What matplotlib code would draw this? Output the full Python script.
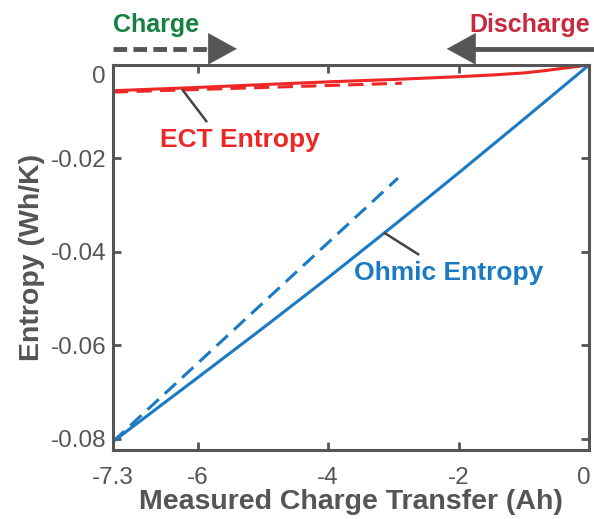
import matplotlib
matplotlib.use("Agg")
import matplotlib.pyplot as plt
from matplotlib.transforms import ScaledTranslation

plt.rcParams["font.family"] = ["Liberation Sans", "DejaVu Sans"]

# ── data ─────────────────────────────────────────────────────────────────────
# measured curves (solid)
ohmic_x = [-7.3, -6, -5, -4, -3, -2, -1, 0]
ohmic_y = [-0.0806, -0.0669, -0.0563, -0.0455, -0.0344, -0.0231, -0.0116, 0.0]
ect_x = [-7.3, -6, -5, -4, -3, -2, -1.5, -1, -0.7, -0.4, -0.2, 0]
ect_y = [-0.0055, -0.0048, -0.0042, -0.0036, -0.0031, -0.0025, -0.00215,
         -0.0017, -0.00125, -0.0007, -0.00035, 0.0]
# charge-direction curves (dashed)
ohmic_chg_x = [-7.3, -2.93]
ohmic_chg_y = [-0.0806, -0.0242]
ect_chg_x = [-7.3, -2.87]
ect_chg_y = [-0.0058, -0.0039]

xticks = [-7.3, -6, -4, -2, 0]
xticklabels = ["-7.3", "-6", "-4", "-2", "0"]
yticks = [-0.08, -0.06, -0.04, -0.02, 0]
yticklabels = ["-0.08", "-0.06", "-0.04", "-0.02", "0"]

RED = "#ee2626"
BLUE = "#1a7ac4"
GRAY = "#555555"
DARK = "#444444"

# ── figure ───────────────────────────────────────────────────────────────────
fig = plt.figure(figsize=(5.94, 5.19), dpi=100)
ax = fig.add_axes([113 / 594, 1 - 450 / 519, 476 / 594, 385 / 519])

ax.plot(ect_x, ect_y, color=RED, lw=2.2, solid_capstyle="round")
ax.plot(ect_chg_x, ect_chg_y, color=RED, lw=2.2, dashes=(5, 2.7))
ax.plot(ohmic_x, ohmic_y, color=BLUE, lw=2.2, solid_capstyle="round")
ax.plot(ohmic_chg_x, ohmic_chg_y, color=BLUE, lw=2.2, dashes=(5, 2.7))

ax.set_xlim(-7.3, 0)
ax.set_ylim(-0.0824, 0)
ax.set_xticks(xticks)
ax.set_xticklabels(xticklabels)
ax.set_yticks(yticks)
ax.set_yticklabels(yticklabels)
ax.tick_params(direction="in", length=6, width=2, top=True, right=True,
               colors=GRAY, labelsize=17.5)
ax.tick_params(axis="x", pad=12)
ax.tick_params(axis="y", pad=5)
for s in ax.spines.values():
    s.set_color(GRAY)
    s.set_linewidth(2.2)

# nudge the two corner "0" labels so they sit clear of the edges
def nudge(lbl, dx, dy):
    lbl.set_transform(lbl.get_transform()
                      + ScaledTranslation(dx / 72, dy / 72, fig.dpi_scale_trans))

nudge(ax.get_yticklabels()[-1], 0, -7)
nudge(ax.get_xticklabels()[-1], -4, 0)

ax.set_xlabel("Measured Charge Transfer (Ah)", fontsize=20.5, fontweight="bold",
              color=GRAY, labelpad=0)
ax.set_ylabel("Entropy (Wh/K)", fontsize=20.5, fontweight="bold",
              color=GRAY, labelpad=4)

# curve labels with leader lines
ax.plot([-6.23, -5.87], [-0.0054, -0.0120], color=DARK, lw=1.8)
ax.text(-5.35, -0.0161, "ECT Entropy", color=RED, fontsize=19,
        fontweight="bold", ha="center", va="center")
ax.plot([-3.13, -2.62], [-0.0360, -0.0405], color=DARK, lw=1.8)
ax.text(-2.16, -0.0446, "Ohmic Entropy", color=BLUE, fontsize=19,
        fontweight="bold", ha="center", va="center")

# direction arrows above the axes
tr = ax.get_xaxis_transform()
arrow_y = 1.042
ax.plot([-7.3, -5.75], [arrow_y, arrow_y], transform=tr, color=GRAY, lw=3.5,
        dashes=(2.8, 1.3), clip_on=False)
ax.annotate("", xy=(-5.40, arrow_y), xytext=(-5.85, arrow_y),
            xycoords=tr, textcoords=tr, annotation_clip=False,
            arrowprops=dict(arrowstyle="-|>,head_length=1.0,head_width=0.55",
                            mutation_scale=20, color=GRAY, lw=0.5,
                            shrinkA=0, shrinkB=0))
ax.plot([0.08, -1.8], [arrow_y, arrow_y], transform=tr, color=GRAY, lw=3.5,
        clip_on=False, solid_capstyle="butt")
ax.annotate("", xy=(-2.18, arrow_y), xytext=(-1.7, arrow_y),
            xycoords=tr, textcoords=tr, annotation_clip=False,
            arrowprops=dict(arrowstyle="-|>,head_length=1.0,head_width=0.55",
                            mutation_scale=20, color=GRAY, lw=0.5,
                            shrinkA=0, shrinkB=0))
ax.text(-7.3, 1.105, "Charge", transform=tr, color="#15803f", fontsize=18,
        fontweight="bold", ha="left", va="center")
ax.text(0.02, 1.105, "Discharge", transform=tr, color="#c9283e", fontsize=18,
        fontweight="bold", ha="right", va="center")

fig.savefig("out.png", dpi=100)
